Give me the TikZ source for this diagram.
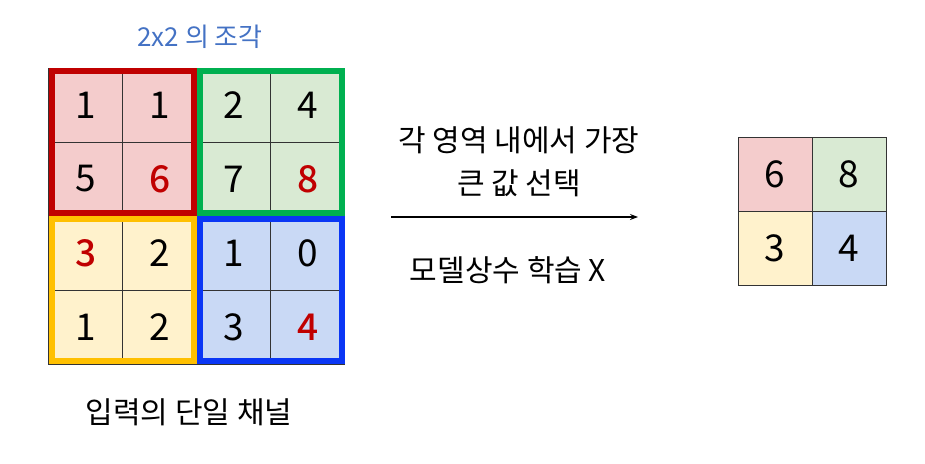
\documentclass[tikz,border=0pt]{standalone}
\usepackage{fontspec}
\setmainfont{Noto Sans CJK KR}
\newfontfamily\maxfont{Noto Sans CJK KR Medium}
\usetikzlibrary{arrows.meta,positioning}

\definecolor{redfill}{HTML}{F4CCCC}
\definecolor{greenfill}{HTML}{D9EAD3}
\definecolor{yellowfill}{HTML}{FFF2CC}
\definecolor{bluefill}{HTML}{C9D9F5}
\definecolor{redline}{HTML}{C00000}
\definecolor{greenline}{HTML}{00B050}
\definecolor{yellowline}{HTML}{FFC000}
\definecolor{blueline}{HTML}{0A36F5}
\definecolor{titleblue}{HTML}{4472C4}

\begin{document}
\begin{tikzpicture}[x=1pt,y=-1pt,
		cell/.style={draw=black!80, line width=0.8pt, minimum size=74pt, inner sep=0pt, font=\fontsize{37pt}{37pt}\selectfont},
		frame/.style={line width=6pt},
		maxval/.style={text=redline, font=\fontsize{37pt}{37pt}\maxfont},
		label/.style={font=\fontsize{30pt}{43pt}\selectfont, align=center}
		]
		\useasboundingbox (0,0) rectangle (925,463);
		% input channel
		\foreach \r/\c/\v/\f in {1/1/1/redfill, 1/2/1/redfill, 2/1/5/redfill,
			1/3/2/greenfill, 1/4/4/greenfill, 2/3/7/greenfill,
			3/2/2/yellowfill, 4/1/1/yellowfill, 4/2/2/yellowfill,
			3/3/1/bluefill, 3/4/0/bluefill, 4/3/3/bluefill}
		\node[cell, fill=\f] (c\r\c) at ({85.7+74*(\c-1)}, {105+74*(\r-1)}) {\v};
		\foreach \r/\c/\v/\f in {2/2/6/redfill, 2/4/8/greenfill, 3/1/3/yellowfill, 4/4/4/bluefill}
		\node[cell, maxval, fill=\f] (c\r\c) at ({85.7+74*(\c-1)}, {105+74*(\r-1)}) {\v};
		
		\draw[frame, redline] ([shift={(3.5,3.5)}]c11.north west) rectangle ([shift={(-3.5,-3.5)}]c22.south east);
		\draw[frame, greenline] ([shift={(3.5,3.5)}]c13.north west) rectangle ([shift={(-3.5,-3.5)}]c24.south east);
		\draw[frame, yellowline] ([shift={(3.5,3.5)}]c31.north west) rectangle ([shift={(-3.5,-3.5)}]c42.south east);
		\draw[frame, blueline] ([shift={(3.5,3.5)}]c33.north west) rectangle ([shift={(-3.5,-3.5)}]c44.south east);
		
		\node[font=\fontsize{26pt}{26pt}\selectfont, text=titleblue] (patch) at (200,37) {2x2 의 조각};
		\node[label] (channel) at (189,412) {입력의 단일 채널};
		
		% pooling
		\coordinate (arrs) at (391,217);
		\coordinate (arre) at (638,217);
		\draw[line width=1.2pt, -{Stealth[length=8pt,width=6pt]}] (arrs) -- (arre);
		\node[label] (rule) at (519,162) {각 영역 내에서 가장\\큰 값 선택};
		\node[label] (nolearn) at (508,270) {모델상수 학습 X};
		
		% output
		\node[cell, fill=redfill] (o11) at (775,174) {6};
		\node[cell, fill=greenfill] (o12) at (849,174) {8};
		\node[cell, fill=yellowfill] (o21) at (775,248) {3};
		\node[cell, fill=bluefill] (o22) at (849,248) {4};
	\end{tikzpicture}
\end{document}
